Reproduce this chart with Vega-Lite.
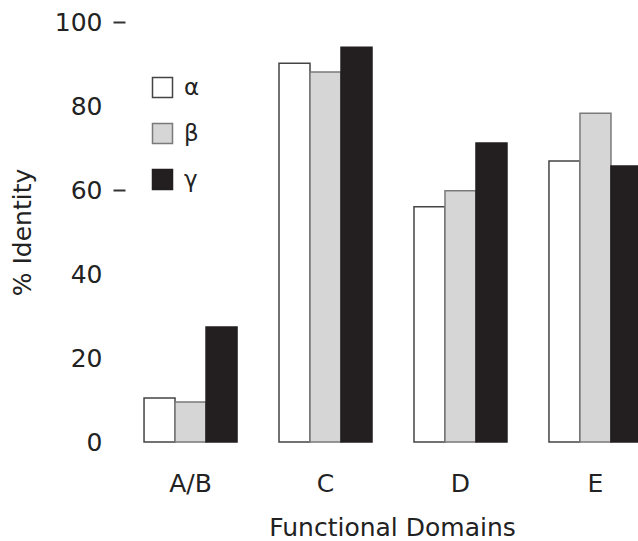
{
  "$schema": "https://vega.github.io/schema/vega-lite/v6.json",
  "autosize": "none",
  "width": 513,
  "height": 420,
  "padding": {"left": 125, "top": 22, "right": 0, "bottom": 99},
  "background": "white",
  "config": {
    "view": {"stroke": null},
    "font": "DejaVu Sans",
    "axis": {"labelFont": "DejaVu Sans", "titleFont": "DejaVu Sans", "labelColor": "#222", "titleColor": "#222", "titleFontWeight": "normal", "grid": false, "domain": false}
  },
  "data": {
    "values": [
      {"domain": "A/B", "subunit": "α", "identity": 10.5},
      {"domain": "A/B", "subunit": "β", "identity": 9.5},
      {"domain": "A/B", "subunit": "γ", "identity": 27.4},
      {"domain": "C", "subunit": "α", "identity": 90.2},
      {"domain": "C", "subunit": "β", "identity": 88.1},
      {"domain": "C", "subunit": "γ", "identity": 94.0},
      {"domain": "D", "subunit": "α", "identity": 56.0},
      {"domain": "D", "subunit": "β", "identity": 59.8},
      {"domain": "D", "subunit": "γ", "identity": 71.2},
      {"domain": "E", "subunit": "α", "identity": 66.9},
      {"domain": "E", "subunit": "β", "identity": 78.3},
      {"domain": "E", "subunit": "γ", "identity": 65.7}
    ]
  },
  "mark": {"type": "bar", "strokeWidth": 1.5},
  "encoding": {
    "x": {
      "field": "domain",
      "type": "nominal",
      "sort": ["A/B", "C", "D", "E"],
      "scale": {"range": [0, 536], "paddingInner": 0.311, "paddingOuter": 0.141},
      "axis": {
        "title": "Functional Domains",
        "labelAngle": 0,
        "labelFontSize": 25,
        "labelPadding": 29,
        "ticks": false,
        "tickSize": 0,
        "titleFontSize": 25,
        "titleX": 267,
        "titleY": 93,
        "titleAlign": "center",
        "titleBaseline": "alphabetic"
      }
    },
    "xOffset": {
      "field": "subunit",
      "type": "nominal",
      "sort": ["α", "β", "γ"],
      "scale": {"paddingInner": 0, "paddingOuter": 0}
    },
    "y": {
      "field": "identity",
      "type": "quantitative",
      "scale": {"domain": [0, 100], "nice": false},
      "axis": {
        "title": "% Identity",
        "values": [0, 20, 40, 60, 80, 100],
        "labelFontSize": 25,
        "labelPadding": 11,
        "tickSize": 12,
        "tickWidth": 2,
        "tickColor": "#333",
        "tickOpacity": {"condition": {"test": "datum.value == 100 || datum.value == 60", "value": 1}, "value": 0},
        "titleFontSize": 25,
        "titleAngle": -90,
        "titleX": -95,
        "titleY": 210,
        "titleAlign": "center",
        "titleBaseline": "alphabetic"
      }
    },
    "fill": {
      "field": "subunit",
      "type": "nominal",
      "scale": {"domain": ["α", "β", "γ"], "range": ["#ffffff", "#d6d6d6", "#231f20"]},
      "legend": {
        "title": null,
        "orient": "none",
        "legendX": 26,
        "legendY": 54,
        "padding": 0,
        "symbolType": "square",
        "symbolSize": 400,
        "symbolStrokeWidth": 1.5,
        "labelFontSize": 23,
        "labelFont": "DejaVu Sans",
        "labelColor": "#222",
        "labelOffset": 10,
        "rowPadding": 19
      }
    },
    "stroke": {
      "field": "subunit",
      "type": "nominal",
      "scale": {"domain": ["α", "β", "γ"], "range": ["#444444", "#7a7a7a", "#231f20"]},
      "legend": null
    }
  }
}
